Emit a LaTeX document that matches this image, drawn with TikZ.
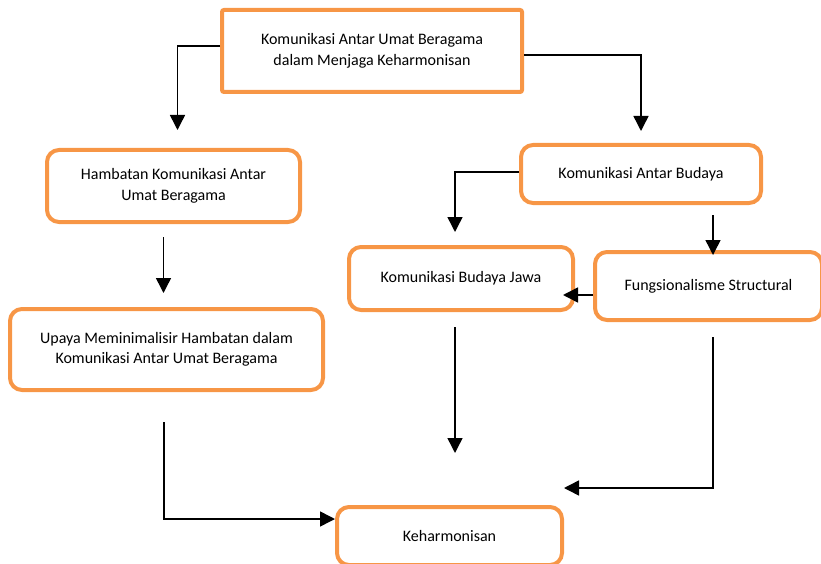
\documentclass[tikz,border=0pt]{standalone}
\usepackage{fontspec}
\setmainfont{Carlito}
\usepackage{xcolor}
\usepackage{tikz}
\usetikzlibrary{arrows.meta,positioning}
\definecolor{kaorange}{HTML}{F79646}

\begin{document}
\begin{tikzpicture}[x=1pt, y=-1pt, ka box/.style={draw=kaorange, line width=4pt, rectangle, rounded corners=12pt, align=center, inner sep=0pt, font=\fontsize{16}{20.5}\selectfont}, ka arrow/.style={line width=1.5pt, -{Triangle[length=15pt,width=15pt]}}]
    \useasboundingbox (0,0) rectangle (821,564);
    \node[ka box, rounded corners=2pt, minimum width=300pt, minimum height=82pt] (top) at (372,51) {Komunikasi Antar Umat Beragama \\ dalam Menjaga Keharmonisan};
    \node[ka box, minimum width=253pt, minimum height=72pt] (hambat) at (173.5,186) {Hambatan Komunikasi Antar \\ Umat Beragama};
    \node[ka box, minimum width=313pt, minimum height=81pt] (upaya) at (166.5,349.5) {Upaya Meminimalisir Hambatan dalam \\ Komunikasi Antar Umat Beragama};
    \node[ka box, minimum width=240pt, minimum height=58pt] (kab) at (641,174) {Komunikasi Antar Budaya};
    \node[ka box, minimum width=224pt, minimum height=63pt] (kbj) at (461,278.5) {Komunikasi Budaya Jawa};
    \node[ka box, minimum width=227pt, minimum height=68pt] (fs) at (708.5,286) {Fungsionalisme Structural};
    \node[ka box, minimum width=225pt, minimum height=58pt] (kh) at (449.5,536) {Keharmonisan};
    
    \draw[ka arrow, shorten >=18pt] ([yshift=5pt]top.west) -| ([xshift=4pt]hambat.north);
    \draw[ka arrow, shorten >=12pt] ([yshift=-4pt]top.east) -| (kab.north);
    \draw[ka arrow, shorten <=13pt, shorten >=14pt] ([xshift=-10pt]hambat.south) -- ([xshift=-10pt]hambat.south |- upaya.north);
    \draw[ka arrow, shorten >=13pt] ([yshift=2pt]kab.west) -| ([xshift=-6pt]kbj.north);
    \draw[ka arrow, shorten <=10pt, shorten >=-5pt] ([xshift=4.5pt]fs.north |- kab.south) -- ([xshift=4.5pt]fs.north);
    \draw[ka arrow, shorten >=-12pt] ([yshift=-9pt]fs.west) -- ([yshift=-9pt]fs.west -| kbj.east);
    \draw[ka arrow, shorten <=15pt, shorten >=52pt] ([xshift=-6pt]kbj.south) -- ([xshift=-6pt]kbj.south |- kh.north);
    \draw[ka arrow, shorten <=15pt] ([xshift=4.5pt]fs.south) |- ([yshift=48pt]kh.east);
    \draw[ka arrow, shorten <=30pt] ([xshift=-2.5pt]upaya.south) |- ([yshift=17pt]kh.west);

\end{tikzpicture}
\end{document}
